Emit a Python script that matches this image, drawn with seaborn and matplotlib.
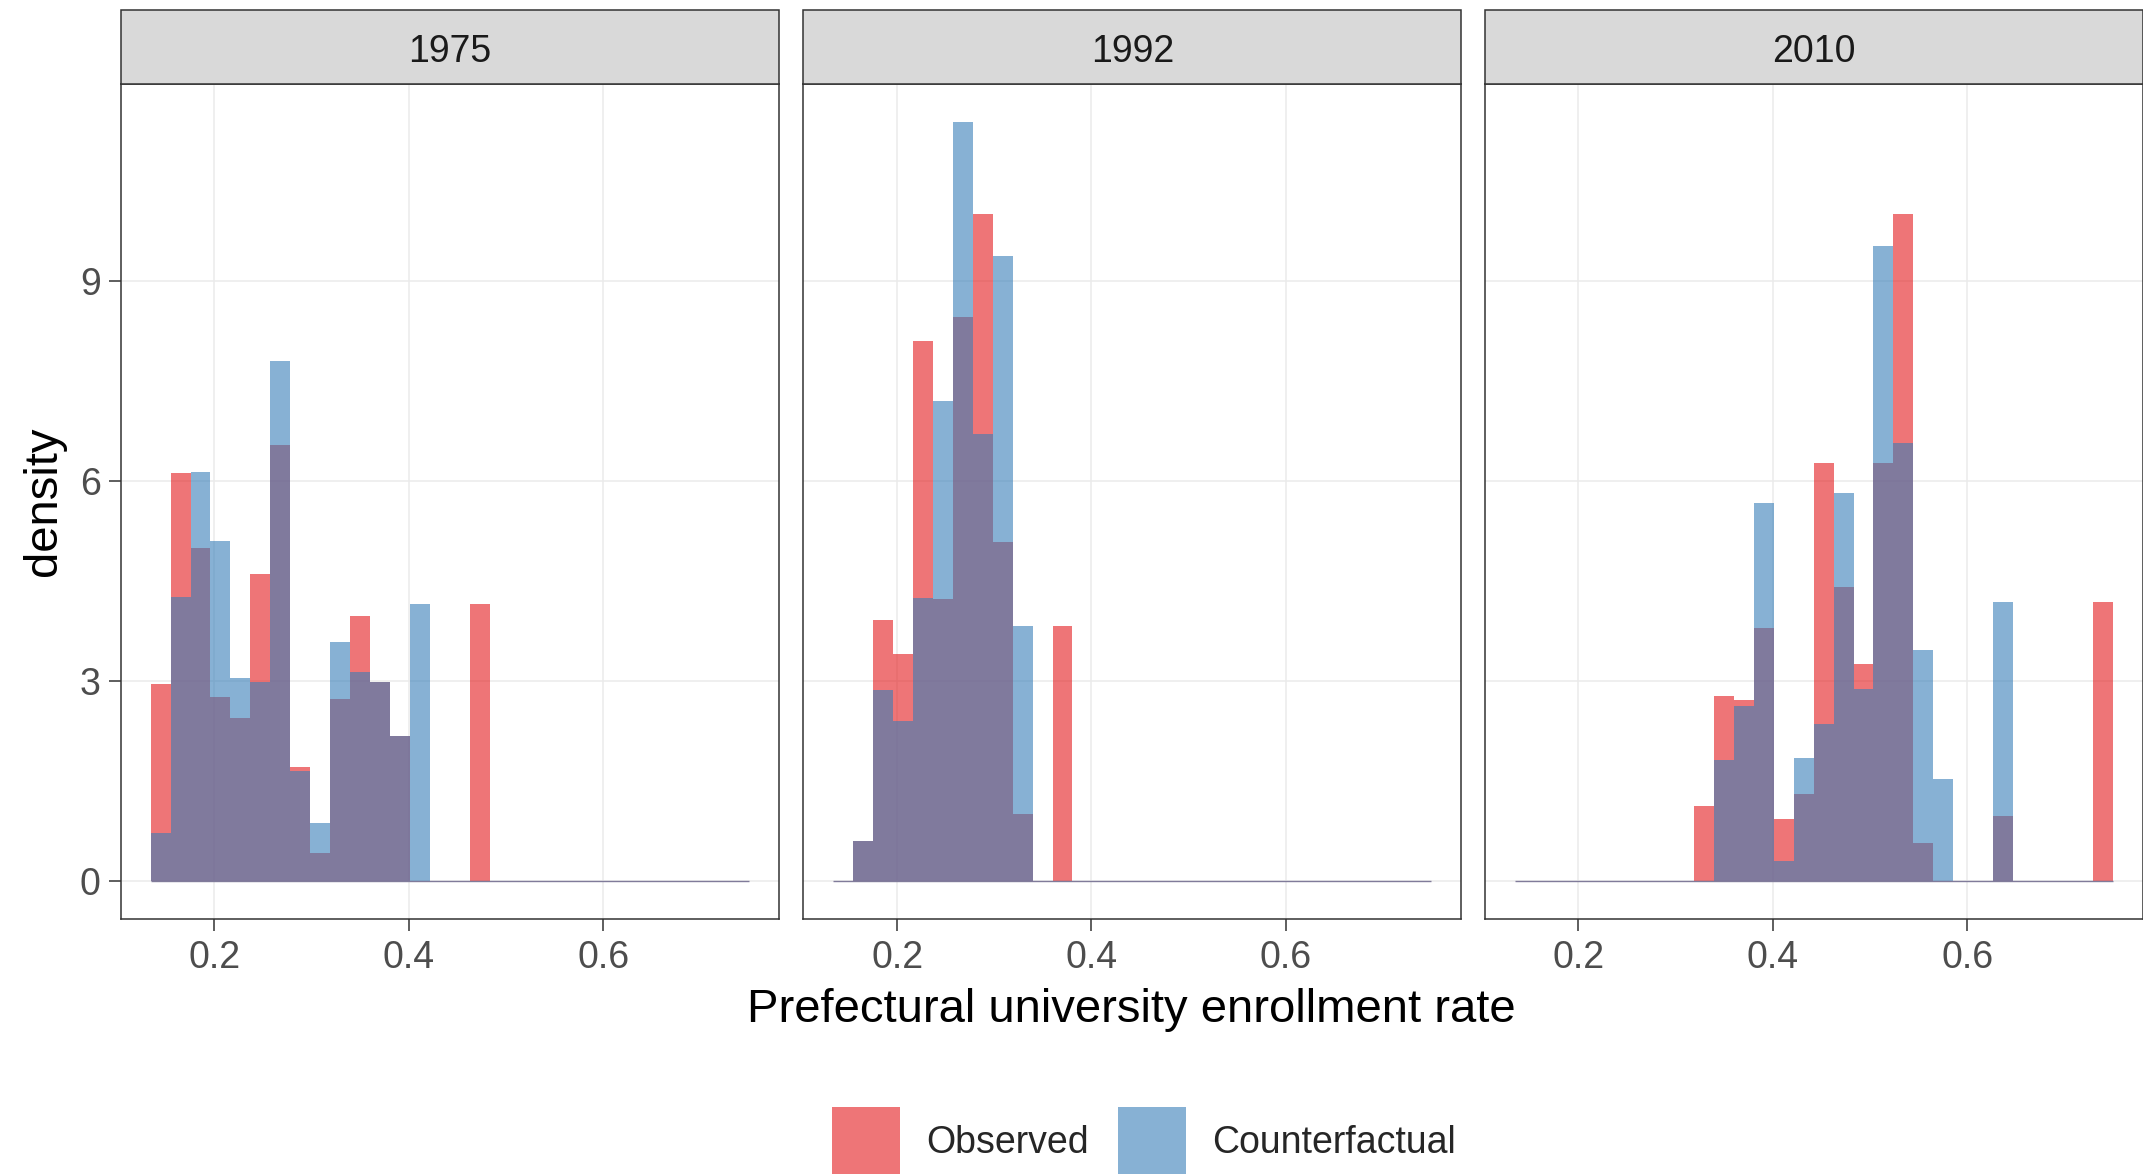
import numpy as np
import pandas as pd
import seaborn as sns
import matplotlib
matplotlib.use("Agg")
import matplotlib.pyplot as plt
from matplotlib.patches import Rectangle, Patch

# ---------------- data (density per bin) ----------------
years = ["1975", "1992", "2010"]
series = ["Observed", "Counterfactual"]
bin_start = 0.1343
bin_width = 0.02051
n_bins = 30

obs_1975 = [2.96, 6.13, 4.99, 2.76, 2.44, 4.61, 6.55, 1.71, 0.42, 2.73,
            3.98, 2.98, 2.17, 0.00, 0.00, 0.00, 4.16, 0.00, 0.00, 0.00,
            0.00, 0.00, 0.00, 0.00, 0.00, 0.00, 0.00, 0.00, 0.00, 0.00]
cf_1975 = [0.72, 4.26, 6.14, 5.10, 3.05, 2.98, 7.80, 1.65, 0.87, 3.59,
           3.13, 2.98, 2.17, 4.16, 0.00, 0.00, 0.00, 0.00, 0.00, 0.00,
           0.00, 0.00, 0.00, 0.00, 0.00, 0.00, 0.00, 0.00, 0.00, 0.00]
obs_1992 = [0.00, 0.59, 3.92, 3.41, 8.10, 4.23, 8.47, 10.02, 5.08, 1.00,
            0.00, 3.82, 0.00, 0.00, 0.00, 0.00, 0.00, 0.00, 0.00, 0.00,
            0.00, 0.00, 0.00, 0.00, 0.00, 0.00, 0.00, 0.00, 0.00, 0.00]
cf_1992 = [0.00, 0.59, 2.87, 2.40, 4.25, 7.21, 11.40, 6.71, 9.38, 3.82,
           0.00, 0.00, 0.00, 0.00, 0.00, 0.00, 0.00, 0.00, 0.00, 0.00,
           0.00, 0.00, 0.00, 0.00, 0.00, 0.00, 0.00, 0.00, 0.00, 0.00]
obs_2010 = [0.00, 0.00, 0.00, 0.00, 0.00, 0.00, 0.00, 0.00, 0.00, 1.13,
            2.78, 2.72, 3.79, 0.93, 1.31, 6.27, 4.41, 3.26, 6.28, 10.02,
            0.56, 0.00, 0.00, 0.00, 0.97, 0.00, 0.00, 0.00, 0.00, 4.18]
cf_2010 = [0.00, 0.00, 0.00, 0.00, 0.00, 0.00, 0.00, 0.00, 0.00, 0.00,
           1.82, 2.63, 5.68, 0.29, 1.84, 2.36, 5.83, 2.88, 9.53, 6.57,
           3.47, 1.53, 0.00, 0.00, 4.18, 0.00, 0.00, 0.00, 0.00, 0.00]

x_ticks = [0.2, 0.4, 0.6]
x_tick_labels = ["0.2", "0.4", "0.6"]
y_ticks = [0, 3, 6, 9]
y_tick_labels = ["0", "3", "6", "9"]

values = {
    "1975": {"Observed": obs_1975, "Counterfactual": cf_1975},
    "1992": {"Observed": obs_1992, "Counterfactual": cf_1992},
    "2010": {"Observed": obs_2010, "Counterfactual": cf_2010},
}

# ---------------- styling ----------------
sns.set_theme(style="white")
plt.rcParams['font.family'] = ['Liberation Sans', 'DejaVu Sans']

colors = {"Observed": "#E41A1C", "Counterfactual": "#377EB8"}
ALPHA = 0.6

W, H = 2143, 1174
fig = plt.figure(figsize=(W / 100, H / 100), dpi=100)

edges = [bin_start + bin_width * k for k in range(n_bins + 1)]
centers = [(edges[k] + edges[k + 1]) / 2 for k in range(n_bins)]

panel_lefts_px = [120.7, 803.3, 1484.7]
panel_w_px = 658.0
top_px, bottom_px = 83.7, 918.7
strip_top_px = 9.7
panel_h_px = bottom_px - top_px
strip_h = (top_px - strip_top_px) / panel_h_px
strip_baseline = 1 + (top_px - 61.5) / panel_h_px

for i, yr in enumerate(years):
    ax = fig.add_axes([panel_lefts_px[i] / W, 1 - bottom_px / H,
                       panel_w_px / W, panel_h_px / H])
    for s in series:
        df = pd.DataFrame({"rate": centers, "density": values[yr][s]})
        sns.histplot(data=df, x="rate", weights="density", bins=edges,
                     stat="count", color=colors[s], alpha=ALPHA,
                     linewidth=0, ax=ax)
    # thin baseline drawn by zero-height bins in the original
    ax.hlines(0, edges[0], edges[-1], color="#807B9A", lw=1.0, zorder=3)

    ax.set_xlim(0.1035, 0.7805)
    ax.set_ylim(-0.57, 11.97)
    ax.set_xticks(x_ticks)
    ax.set_xticklabels(x_tick_labels)
    ax.set_yticks(y_ticks)
    ax.set_yticklabels(y_tick_labels)
    ax.set_xlabel("")
    ax.set_ylabel("")
    ax.grid(True, color="#EBEBEB", lw=1.1)
    ax.set_axisbelow(True)
    for sp in ax.spines.values():
        sp.set_visible(True)
        sp.set_color("#333333")
        sp.set_linewidth(1.1)
    ax.tick_params(axis="both", direction="out", length=8.4, width=1.1,
                   color="#333333", labelcolor="#4D4D4D", labelsize=27)
    ax.tick_params(axis="x", pad=7, bottom=True)
    ax.tick_params(axis="y", pad=6, left=True)
    if i > 0:
        ax.tick_params(axis="y", left=False, labelleft=False)

    # facet strip
    ax.add_patch(Rectangle((0, 1), 1, strip_h, transform=ax.transAxes,
                           clip_on=False, facecolor="#D9D9D9",
                           edgecolor="#333333", lw=1.1, zorder=5))
    ax.text(0.5, strip_baseline, yr, transform=ax.transAxes,
            ha="center", va="baseline", fontsize=27, color="#1A1A1A", zorder=6)

fig.text(1131.4 / W, 1 - 1022 / H, "Prefectural university enrollment rate",
         ha="center", va="baseline", fontsize=34, color="black")
fig.text(44 / W, 1 - 501.5 / H, "density", rotation=90,
         ha="center", va="center", fontsize=34, color="black")

handles = [Patch(facecolor=colors[s], edgecolor="none", alpha=ALPHA, label=s)
           for s in series]
fig.legend(handles=handles, labels=series, loc="center",
           bbox_to_anchor=(0.5339, 1 - 1141 / H), ncol=2, frameon=False,
           fontsize=27, handlelength=1.81, handleheight=2.41,
           handletextpad=0.7, columnspacing=0.78, borderpad=0,
           borderaxespad=0)

fig.savefig("out.png", dpi=100)
